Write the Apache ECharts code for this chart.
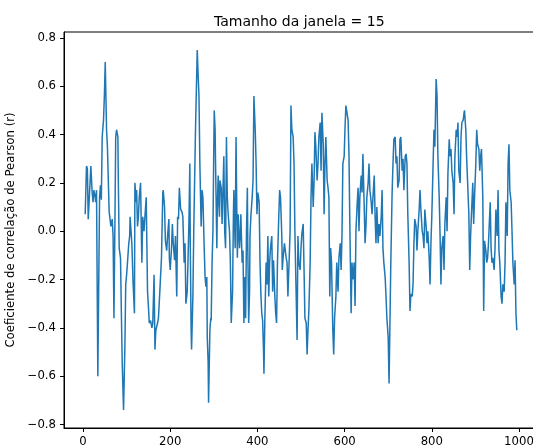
<!DOCTYPE html>
<html><head><meta charset="utf-8">
<script src="https://cdn.jsdelivr.net/npm/echarts@6/dist/echarts.min.js"></script>
<style>html,body{margin:0;padding:0;background:#fff}#c{width:533px;height:446px}</style>
</head><body><div id="c"></div>
<script>
// window index (x) and Pearson r (y)
const xs = [5,8,10,12,18,21,23,25,28,29,31,34,38,40,42,44,47,49,51,54,56,57,60,62,64,67,69,71,73,75,77,80,81,83,86,88,90,93,96,98,100,102,105,107,
108,112,115,118,119,122,123,125,127,129,132,135,137,140,142,145,148,150,152,155,158,160,163,165,167,171,173,177,180,183,184,187,189,192,194,197,198,200,203,205,207,210,212,215,217,219,221,224,
227,229,232,234,236,239,241,243,245,246,248,249,252,254,256,258,262,264,266,268,271,273,275,278,280,282,284,285,287,288,291,293,294,296,298,300,301,303,304,307,308,310,311,313,314,317,319,321,323,325,327,329,331,333,336,338,340,343,345,
346,349,351,352,354,356,359,361,362,365,367,369,371,373,375,377,378,380,382,383,385,388,390,392,395,397,399,401,404,406,408,410,412,414,415,417,420,422,424,426,428,430,433,435,437,440,442,444,446,449,451,453,456,457,459,462,464,
466,468,470,473,475,477,479,482,484,486,489,491,493,495,498,500,502,505,507,509,512,514,516,518,521,523,525,528,530,532,534,537,539,541,544,546,548,551,553,555,557,560,562,564,566,568,570,573,575,577,580,582,
585,587,590,592,594,596,599,601,603,606,608,610,612,615,617,619,622,624,626,629,631,633,635,638,640,642,645,647,649,651,654,656,658,661,663,665,668,670,672,674,677,679,681,684,686,688,690,693,695,697,700,702,
706,709,711,713,716,718,720,722,725,727,729,732,734,736,739,741,743,745,748,750,752,755,757,759,761,764,766,768,771,773,775,778,780,782,784,787,789,791,794,796,798,800,803,805,807,810,812,814,817,819,821,
823,826,828,830,833,835,837,840,842,844,846,849,851,853,856,858,860,862,865,867,869,872,874,875,878,880,882,885,887,889,891,894,896,898,901,903,905,908,910,912,914,917,919,921,924,926,928,930,
934,936,938,940,943,945,947,950,952,954,956,959,961,963,966,968,970,973,975,977,979,982,984,986,989,991,993,995];
const ys = [0.07,0.27,0.26,0.05,0.27,0.16,0.12,0.17,0.14,0.12,0.17,-0.60,0.14,0.19,0.13,0.39,0.46,0.56,0.70,0.42,0.35,0.28,0.08,0.05,0.02,0.05,-0.02,-0.36,0.00,0.39,0.42,0.39,0.21,-0.07,-0.11,-0.34,-0.55,-0.74,-0.48,-0.22,-0.18,-0.13,-0.05,-0.02,
0.06,-0.05,-0.22,-0.34,0.20,0.12,0.17,0.02,0.06,0.14,0.20,-0.13,0.06,0.00,0.06,0.14,-0.25,-0.31,-0.38,-0.37,-0.40,-0.38,-0.18,-0.49,-0.41,-0.38,-0.36,-0.22,-0.11,0.16,0.17,0.10,-0.04,-0.08,-0.02,0.05,-0.11,-0.16,-0.07,0.03,-0.05,-0.12,-0.02,-0.27,0.06,0.05,0.18,0.09,
0.08,0.06,-0.13,-0.05,-0.30,-0.25,-0.11,0.04,0.28,-0.05,-0.41,-0.49,-0.27,0.00,0.21,0.42,0.75,0.65,0.56,0.28,0.02,0.17,0.14,-0.07,-0.19,-0.23,-0.19,-0.44,-0.54,-0.71,-0.41,-0.36,-0.37,-0.13,0.00,0.35,0.50,0.42,0.28,-0.07,0.09,0.23,0.14,0.06,0.21,0.18,0.03,0.17,0.31,0.00,-0.07,0.39,0.14,0.07,0.00,-0.13,-0.38,-0.25,0.07,
0.17,-0.07,0.39,0.21,-0.11,0.07,-0.07,0.00,0.07,-0.13,-0.08,-0.38,-0.19,-0.36,0.00,0.18,-0.07,-0.38,-0.25,-0.02,0.06,0.14,0.21,0.56,0.42,0.28,0.07,0.16,0.12,-0.13,-0.26,-0.34,-0.37,-0.49,-0.59,-0.37,-0.13,-0.22,-0.02,-0.27,-0.13,-0.07,-0.02,-0.25,-0.12,-0.27,-0.34,-0.38,-0.13,0.06,0.17,0.14,-0.02,-0.16,-0.11,-0.05,-0.08,
-0.11,-0.13,-0.27,-0.11,0.00,0.52,0.42,0.39,0.28,0.00,-0.27,-0.45,-0.02,-0.13,-0.16,-0.07,-0.01,0.03,-0.16,-0.36,-0.38,-0.51,-0.41,-0.33,-0.13,0.14,0.28,0.10,0.21,0.41,0.35,0.21,0.28,0.39,0.45,0.25,0.49,0.36,0.07,0.28,0.39,0.21,0.18,0.14,-0.27,-0.07,-0.13,-0.41,-0.51,-0.36,-0.27,-0.13,
-0.25,-0.11,-0.05,-0.16,-0.02,0.28,0.31,0.43,0.52,0.52,0.46,0.32,0.03,-0.34,-0.13,-0.20,-0.13,-0.31,0.00,0.12,0.18,0.00,0.14,0.23,0.16,0.32,0.10,-0.05,0.02,0.14,0.20,0.28,0.17,0.12,0.07,0.14,0.23,0.06,-0.05,0.10,-0.05,0.03,-0.02,0.06,0.17,-0.07,-0.13,-0.19,-0.27,-0.36,-0.44,-0.63,
-0.13,0.16,0.28,0.38,0.39,0.28,0.31,0.18,0.21,0.38,0.39,0.25,0.30,0.17,0.31,0.32,0.28,0.07,-0.13,-0.33,-0.26,-0.27,-0.22,-0.05,0.05,0.02,-0.08,0.00,0.09,0.17,0.09,0.00,-0.02,-0.07,0.09,0.02,-0.05,0.00,-0.11,-0.22,-0.05,0.06,0.28,0.42,0.35,0.63,0.56,0.31,0.14,-0.02,-0.22,
-0.07,-0.02,-0.16,0.03,0.14,0.00,0.24,0.38,0.31,0.34,0.25,0.20,0.07,0.31,0.42,0.39,0.45,0.25,0.20,0.39,0.45,0.46,0.49,0.50,0.42,0.30,0.21,0.07,-0.16,-0.02,0.07,0.20,0.03,0.14,0.28,0.42,0.36,0.34,0.25,0.31,0.34,0.14,-0.33,-0.04,-0.08,-0.13,-0.11,-0.05,
0.12,-0.07,-0.13,-0.11,-0.16,-0.07,0.09,-0.02,0.17,-0.08,-0.13,-0.27,-0.30,-0.22,-0.25,-0.13,0.12,-0.02,0.28,0.36,0.17,0.12,0.00,-0.13,-0.22,-0.12,-0.34,-0.41];
const xTicks = [0, 200, 400, 600, 800, 1000];
const yTicks = [-0.8, -0.6, -0.4, -0.2, 0.0, 0.2, 0.4, 0.6, 0.8];
const titleText = 'Tamanho da janela = 15';
const yName = 'Coeficiente de correlação de Pearson (r)';

const FONT = 'DejaVu Sans';
const chart = echarts.init(document.getElementById('c'), null, {renderer: 'canvas'});
const fmtY = v => { const s = (Math.round(v * 10) / 10).toFixed(1); return s.replace('-', '\u2212'); };
chart.setOption({
  animation: false,
  backgroundColor: '#fff',
  title: {text: titleText, left: 209, top: 10,
    textStyle: {fontFamily: FONT, fontSize: 14, fontWeight: 'normal', color: '#000'}},
  grid: {left: 64, top: 32, width: 474, height: 396, outerBoundsMode: 'none', containLabel: false,
    show: true, borderColor: '#000', borderWidth: 1, backgroundColor: 'transparent'},
  xAxis: {type: 'value', min: -43.6, max: 1043.6,
    axisLine: {show: true, onZero: false, lineStyle: {color: '#000', width: 1}},
    axisTick: {show: true, length: 4, customValues: xTicks, lineStyle: {color: '#000', width: 1}},
    axisLabel: {customValues: xTicks, margin: 8, fontFamily: FONT, fontSize: 11.7, color: '#000', hideOverlap: false, formatter: v => String(Math.round(v))},
    splitLine: {show: false}},
  yAxis: {type: 'value', min: -0.8145, max: 0.8245,
    name: yName, nameLocation: 'middle', nameGap: 42,
    nameTextStyle: {fontFamily: FONT, fontSize: 11.7, color: '#000'},
    axisLine: {show: true, onZero: false, lineStyle: {color: '#000', width: 1}},
    axisTick: {show: true, length: 4, customValues: yTicks, lineStyle: {color: '#000', width: 1}},
    axisLabel: {customValues: yTicks, margin: 8, fontFamily: FONT, fontSize: 11.7, color: '#000', formatter: fmtY},
    splitLine: {show: false}},
  series: [{type: 'line', data: xs.map((x, i) => [x, ys[i]]), symbol: 'none', showSymbol: false,
    lineStyle: {color: '#1f77b4', width: 1.5}, clip: true}]
});
</script></body></html>
